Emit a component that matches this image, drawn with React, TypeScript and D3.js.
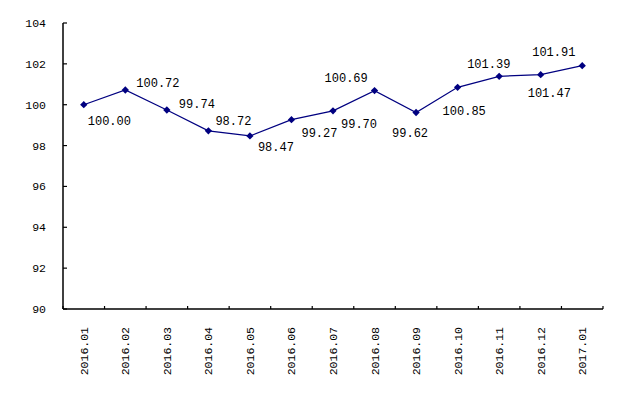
import { line, scaleBand, scaleLinear, symbol, symbolDiamond2 } from "d3";

const months = [
  "2016.01", "2016.02", "2016.03", "2016.04", "2016.05", "2016.06", "2016.07",
  "2016.08", "2016.09", "2016.10", "2016.11", "2016.12", "2017.01",
];
const values = [
  100.0, 100.72, 99.74, 98.72, 98.47, 99.27, 99.7, 100.69, 99.62, 100.85,
  101.39, 101.47, 101.91,
];
const yTicks = [90, 92, 94, 96, 98, 100, 102, 104];

// where each value label sits relative to its point (left edge, vertical centre)
const labelOffsets: [number, number][] = [
  [4, 16], [11, -7], [12, -6], [7, -10], [8, 11], [10, 13], [8, 13],
  [-50, -13], [-24, 20], [-15, 23], [-32, -13], [-13, 18], [-50, -14],
];

const width = 623;
const height = 397;
const left = 63;
const right = 603;
const top = 23;
const bottom = 309;

const font = "'Liberation Mono', 'DejaVu Sans Mono', monospace";
const color = "#000080";

function App() {
  const x = scaleBand<string>().domain(months).range([left, right]).padding(0);
  const y = scaleLinear().domain([90, 104]).range([bottom, top]);
  const cx = (m: string) => (x(m) as number) + x.bandwidth() / 2;

  const path = line<number>()
    .x((_, i) => cx(months[i]))
    .y((d) => y(d))(values);

  const diamond = symbol().type(symbolDiamond2).size(34)() as string;

  const boundaries = months.map((m) => x(m) as number).concat([right]);

  return (
    <svg
      width={width}
      height={height}
      style={{ position: "absolute", left: 0, top: 0, background: "#fff" }}
    >
      {/* y axis */}
      <line x1={left} x2={left} y1={top} y2={bottom} stroke="#000" strokeWidth={1.5} />
      {yTicks.map((t) => (
        <g key={t}>
          <line x1={left} x2={left + 4} y1={y(t)} y2={y(t)} stroke="#000" strokeWidth={1.2} />
          <text
            x={46}
            y={y(t)}
            dy="0.35em"
            textAnchor="end"
            fontFamily={font}
            fontSize={11.5}
          >
            {t}
          </text>
        </g>
      ))}

      {/* x axis */}
      <line x1={left} x2={right} y1={bottom} y2={bottom} stroke="#000" strokeWidth={1.5} />
      {boundaries.map((b, i) => (
        <line key={i} x1={b} x2={b} y1={bottom} y2={bottom - 3} stroke="#000" strokeWidth={1.2} />
      ))}
      {months.map((m) => (
        <text
          key={m}
          transform={`translate(${cx(m)},${bottom + 18}) rotate(-90)`}
          dy="0.35em"
          textAnchor="end"
          fontFamily={font}
          fontSize={11.5}
        >
          {m}
        </text>
      ))}

      {/* series */}
      <path d={path as string} fill="none" stroke={color} strokeWidth={1.2} />
      {values.map((v, i) => (
        <path
          key={i}
          d={diamond}
          transform={`translate(${cx(months[i])},${y(v)})`}
          fill={color}
        />
      ))}
      {values.map((v, i) => (
        <text
          key={i}
          x={cx(months[i]) + labelOffsets[i][0]}
          y={y(v) + labelOffsets[i][1]}
          dy="0.35em"
          fontFamily={font}
          fontSize={12}
        >
          {v.toFixed(2)}
        </text>
      ))}
    </svg>
  );
}

export default App;
